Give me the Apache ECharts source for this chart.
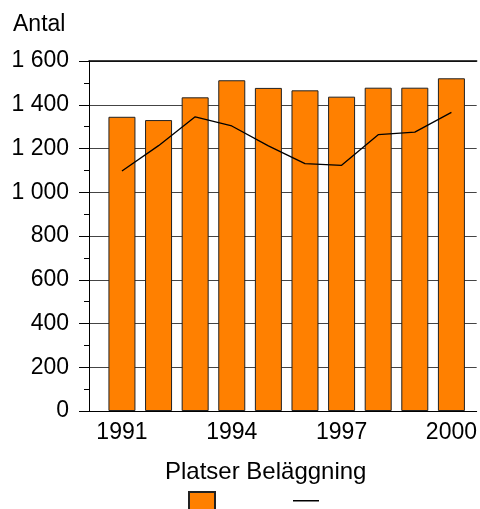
<!DOCTYPE html>
<html>
<head>
<meta charset="utf-8">
<script src="https://cdn.jsdelivr.net/npm/echarts@6/dist/echarts.min.js"></script>
<style>html,body{margin:0;padding:0;background:#fff}#c{width:480px;height:509px}</style>
</head>
<body>
<div id="c"></div>
<script>
const years = [1991, 1992, 1993, 1994, 1995, 1996, 1997, 1998, 1999, 2000];
const platser = [1345, 1330, 1434, 1512, 1477, 1466, 1437, 1478, 1478, 1521];
const belaggning = [1097, 1213, 1345, 1303, 1212, 1131, 1123, 1263, 1275, 1365];
const xTickYears = [1991, 1994, 1997, 2000];
const yTickLabels = ['0', '200', '400', '600', '800', '1 000', '1 200', '1 400', '1 600'];
const seriesNames = ['Platser', 'Beläggning'];
const yTitle = 'Antal';

const font = '"Liberation Sans", Arial, sans-serif';
const chart = echarts.init(document.getElementById('c'), null, {renderer: 'canvas'});
chart.setOption({
  animation: false,
  backgroundColor: '#fff',
  title: [
    {text: yTitle, left: 13, top: 13, padding: 0,
     textStyle: {fontFamily: font, fontSize: 23, fontWeight: 'normal', color: '#000'}},
    {text: seriesNames.join(' '), left: 165, top: 460, padding: 0,
     textStyle: {fontFamily: font, fontSize: 24, fontWeight: 'normal', color: '#000'}}
  ],
  grid: {left: 89, right: 0, top: 61, bottom: 98, containLabel: false},
  legend: [
    {data: [seriesNames[0]], left: 188, top: 491, padding: 0, itemWidth: 26, itemHeight: 26,
     icon: 'rect', selectedMode: false, formatter: () => '', textStyle: {fontSize: 8}},
    {data: [seriesNames[1]], left: 293, top: 500, padding: 0, itemWidth: 26, itemHeight: 1.5,
     icon: 'rect', selectedMode: false, formatter: () => '', textStyle: {fontSize: 1}}
  ],
  xAxis: [
    {type: 'value', min: 1990.1, max: 2000.69, position: 'bottom',
     axisLine: {show: true, lineStyle: {color: '#000', width: 1}},
     axisTick: {show: false}, splitLine: {show: false},
     axisLabel: {customValues: xTickYears, margin: 10, fontFamily: font, fontSize: 23, color: '#000',
                 formatter: v => String(v)}},
    {type: 'value', min: 1990.1, max: 2000.69, position: 'top',
     axisLine: {show: true, lineStyle: {color: '#000', width: 1.5}},
     axisTick: {show: false}, splitLine: {show: false}, axisLabel: {show: false}}
  ],
  yAxis: {
    type: 'value', min: 0, max: 1600, interval: 200,
    axisLine: {show: true, lineStyle: {color: '#000', width: 1}},
    axisTick: {show: true, length: 10, lineStyle: {color: '#000'}},
    minorTick: {show: true, splitNumber: 2, length: 5, lineStyle: {color: '#000'}},
    splitLine: {show: true, lineStyle: {color: '#444', width: 1}},
    axisLabel: {margin: 20, fontFamily: font, fontSize: 23, color: '#000',
                formatter: v => yTickLabels[Math.round(v / 200)]}
  },
  series: [
    {name: seriesNames[0], type: 'bar', barWidth: 27,
     data: years.map((y, i) => [y, platser[i]]),
     itemStyle: {color: '#FF8000', borderColor: '#222', borderWidth: 1}},
    {name: seriesNames[1], type: 'line', symbol: 'none',
     data: years.map((y, i) => [y, belaggning[i]]),
     lineStyle: {color: '#000', width: 1.3}, itemStyle: {color: '#000'}}
  ]
});
</script>
</body>
</html>
